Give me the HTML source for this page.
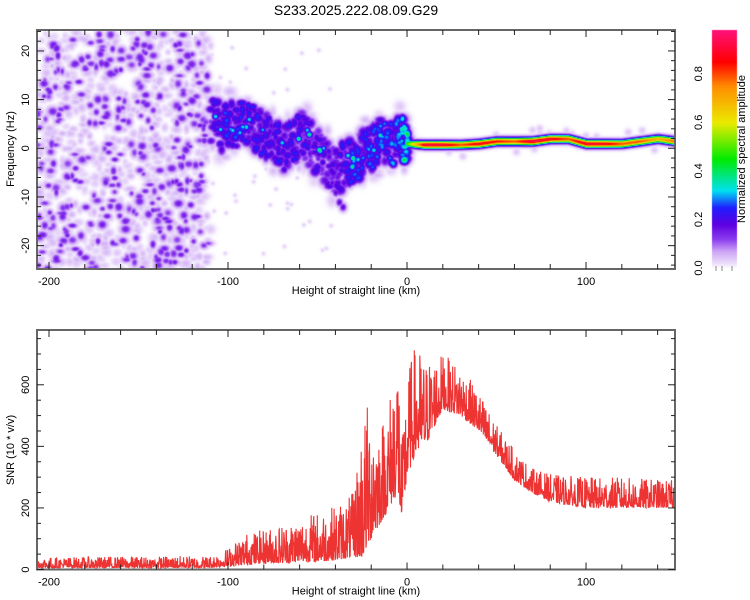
<!DOCTYPE html>
<html><head><meta charset="utf-8"><style>
body{margin:0;background:#fff;font-family:"Liberation Sans",sans-serif;}
#wrap{position:relative;width:750px;height:600px;overflow:hidden;}
canvas,svg{position:absolute;left:0;top:0;}
</style></head><body>
<div id="wrap">
<canvas id="hm" width="750" height="600"></canvas>
<svg id="sv" width="750" height="600"></svg>
</div>
<script>
// ---- data ----
const ridgeKm  =[-108,-104,-100,-95,-90,-85,-80,-75,-70,-65,-60,-55,-50,-45,-40,-35,-30,-25,-20,-15,-10,-5,0,10,20,30,40,50,60,70,80,90,100,110,120,130,140,150];
const ridgeHz  =[6,4,5,5,6,4,3,1,0,1,3,1,-1,-3,-5,-3,-2,-1,0,2,1,2,1,0.8,0.8,0.8,1,1.5,1.5,1.5,2,2,1,1,1,1.5,2,1.5];
const ridgeAmp =[0.22,0.27,0.27,0.27,0.25,0.25,0.25,0.24,0.24,0.24,0.25,0.22,0.22,0.22,0.22,0.25,0.28,0.28,0.28,0.3,0.3,0.32,0.5,0.92,0.92,0.8,0.9,0.85,0.8,0.95,0.9,0.8,0.92,0.9,0.8,0.8,0.7,0.8];
const snrKm =[-206,-110,-100,-90,-80,-70,-60,-50,-40,-30,-25,-20,-15,-10,-5,-3,0,5,10,20,30,40,50,60,70,80,100,120,150];
const snrLo =[5,5,10,15,20,20,25,25,30,40,40,100,150,200,250,150,300,380,400,520,500,450,370,290,250,220,200,200,200];
const snrHi =[40,45,70,120,130,150,170,190,210,250,500,580,480,560,770,400,640,740,680,700,660,580,470,390,330,310,300,300,290];
const xTicks=[-200,-100,0,100];
const fTicks=[-20,-10,0,10,20];
const sTicks=[0,200,400,600];
const cTicks=[0.0,0.2,0.4,0.6,0.8];
// ---- geometry ----
const X0=37,X1=675,KM0=-206.7,KM1=149.7;
const sx=k=>X0+(k-KM0)/(KM1-KM0)*(X1-X0);
const T0=30,T1=269,F0=24.3,F1=-24.8;
const sf=f=>T0+(F0-f)/(F0-F1)*(T1-T0);
const B0=330,B1=569.5,S0=778;
const ss=v=>B1-v/S0*(B1-B0);
let seed=12345;const rnd=()=>{seed=(seed*1103515245+12345)%2147483648;return seed/2147483648;};
const interp=(xs,ys,x)=>{if(x<=xs[0])return ys[0];for(let i=1;i<xs.length;i++)if(x<=xs[i]){const t=(x-xs[i-1])/(xs[i]-xs[i-1]);return ys[i-1]+t*(ys[i]-ys[i-1]);}return ys[ys.length-1];};
// ---- heatmap ----
const W=X1-X0,H=T1-T0,grid=new Float32Array(W*H);
function blob(cx,cy,sg,sgy,a){const x0=Math.max(0,Math.floor(cx-3*sg)),x1=Math.min(W-1,Math.ceil(cx+3*sg)),y0=Math.max(0,Math.floor(cy-3*sgy)),y1=Math.min(H-1,Math.ceil(cy+3*sgy));
for(let y=y0;y<=y1;y++)for(let x=x0;x<=x1;x++){const v=a*Math.exp(-((x-cx)**2/(2*sg*sg)+(y-cy)**2/(2*sgy*sgy)));const i=y*W+x;if(v>grid[i])grid[i]=v;}}
// background noise texture
for(let n=0;n<1000;n++){const k=KM0+rnd()*(-110-KM0);const f=F1+rnd()*(F0-F1);const r=rnd();
 if(r<0.32)blob(sx(k)-X0,sf(f)-T0,2+rnd()*2,1.8+rnd()*1.8,0.12+rnd()*0.04);
 else blob(sx(k)-X0,sf(f)-T0,2+rnd()*2,2+rnd()*1.5,0.03+rnd()*0.03);}
for(let n=0;n<40;n++){const k=-110+rnd()*70;const f=-22+rnd()*44;blob(sx(k)-X0,sf(f)-T0,1.5,1.5,0.03);}
// ridge
for(let k=-110;k<=0;k+=0.4){const f=interp(ridgeKm,ridgeHz,k),a=interp(ridgeKm,ridgeAmp,k);
 if(rnd()<0.5){const jf=f+(rnd()-0.5)*14;blob(sx(k+rnd())-X0,sf(jf)-T0,2.5+rnd()*2,2.5+rnd()*2,0.03+rnd()*0.03);}
 for(let j=0;j<2;j++){const jf=f+(rnd()-0.5)*9;blob(sx(k+rnd())-X0,sf(jf)-T0,2.5+rnd()*2,2.5+rnd()*2,a*(0.55+rnd()*0.5));}
 if(rnd()<0.1)blob(sx(k)-X0,sf(f+(rnd()-0.5)*5)-T0,2.5,2.5,0.3+rnd()*0.12);}
[[-40,-9],[-38,-11],[-36,-12],[-42,-7]].forEach(p=>blob(sx(p[0])-X0,sf(p[1])-T0,2.5,3,0.18));
for(let k=0;k<=KM1;k+=0.3){const f=interp(ridgeKm,ridgeHz,k),a=interp(ridgeKm,ridgeAmp,k);blob(sx(k)-X0,sf(f)-T0,2.5,2.6,a);
 if(rnd()<0.04)blob(sx(k)-X0,sf(f+(rnd()-0.5)*5)-T0,2.5,2.5,0.04);}
const cmS=[0,0.02,0.07,0.12,0.18,0.25,0.32,0.45,0.6,0.75,0.85,1.0];
const cmC=[[255,255,255],[236,222,251],[205,165,245],[140,60,240],[95,0,225],[30,30,255],[0,225,240],[0,235,0],[235,235,0],[255,140,0],[255,0,0],[255,20,140]];
function cmap(v){v=Math.max(0,Math.min(1,v));for(let i=1;i<cmS.length;i++)if(v<=cmS[i]){const t=(v-cmS[i-1])/(cmS[i]-cmS[i-1]);return cmC[i-1].map((c,j)=>Math.round(c+t*(cmC[i][j]-c)));}return cmC[cmC.length-1];}
const ctx=document.getElementById('hm').getContext('2d');
const img=ctx.createImageData(W,H);
for(let i=0;i<W*H;i++){const c=cmap(grid[i]);img.data[4*i]=c[0];img.data[4*i+1]=c[1];img.data[4*i+2]=c[2];img.data[4*i+3]=255;}
ctx.putImageData(img,X0,T0);
// colorbar
for(let y=30;y<=268;y++){const v=(268-y)/(268-30)*0.98;const c=cmap(v);ctx.fillStyle=`rgb(${c[0]},${c[1]},${c[2]})`;ctx.fillRect(712,y,25,1);}
// ---- svg ----
const sv=document.getElementById('sv');const NS='http://www.w3.org/2000/svg';
function el(t,a,txt){const e=document.createElementNS(NS,t);for(const k in a)e.setAttribute(k,a[k]);if(txt!==undefined)e.textContent=txt;sv.appendChild(e);return e;}
function txt(x,y,s,size,rot,name){const e=el('text',{x:x,y:y,'font-size':size,'text-anchor':'middle','font-family':'Liberation Sans, sans-serif',fill:'#000',transform:rot?`rotate(-90 ${x} ${y})`:''},s);

return e;}
txt(356,15,'S233.2025.222.08.09.G29',14,false,'chart-title');
// SNR line
let pts=[];for(let k=KM0;k<=KM1;k+=0.18){const lo=interp(snrKm,snrLo,k),hi=interp(snrKm,snrHi,k);const u=Math.pow(rnd(),2.0);pts.push(sx(k).toFixed(1)+','+ss(lo+u*(hi-lo)).toFixed(1));}
const ln=el('polyline',{points:pts.join(' '),fill:'none',stroke:'#ee3333','stroke-width':1.1});


function frame(top,bot,name){const r=el('rect',{x:X0,y:top,width:X1-X0,height:bot-top,fill:'none',stroke:'#666','stroke-width':2});


for(let k=-200;k<=140;k+=20){const x=sx(k),L=(k%100===0)?7:5;el('line',{x1:x,y1:bot,x2:x,y2:bot-L,stroke:'#222'});el('line',{x1:x,y1:top,x2:x,y2:top+L,stroke:'#222'});}
xTicks.forEach(k=>txt(sx(k),bot+16,String(k),11,false,'x-tick-label'));
txt(356,bot+25,'Height of straight line (km)',11,false,'x-axis-title');}
frame(T0,T1,'spectrogram-frame');frame(B0,B1,'snr-frame');
for(let f=-24;f<=24;f+=2){const y=sf(f),L=(f%10===0)?7:4;el('line',{x1:X0,y1:y,x2:X0+L,y2:y,stroke:'#222'});el('line',{x1:X1,y1:y,x2:X1-L,y2:y,stroke:'#222'});}
fTicks.forEach(f=>txt(29,sf(f),String(f),11,true,'y-tick-label'));
txt(14,149,'Frequency (Hz)',11,true,'y-axis-title-frequency');
for(let v=0;v<=750;v+=50){const y=ss(v),L=(v%200===0)?7:4;el('line',{x1:X0,y1:y,x2:X0+L,y2:y,stroke:'#222'});el('line',{x1:X1,y1:y,x2:X1-L,y2:y,stroke:'#222'});}
sTicks.forEach(v=>txt(29,ss(v),String(v),11,true,'y-tick-label'));
txt(14,450,'SNR (10 * v/v)',11,true,'y-axis-title-snr');
cTicks.forEach(v=>txt(702,268-v/0.98*238,v.toFixed(1),11,true,'colorbar-tick-label'));
txt(745,149,'Normalized spectral amplitude',11,true,'colorbar-title');
[716,722,732].forEach(x=>el('line',{x1:x,y1:266,x2:x,y2:271,stroke:'#888'}));
</script>
</body></html>
